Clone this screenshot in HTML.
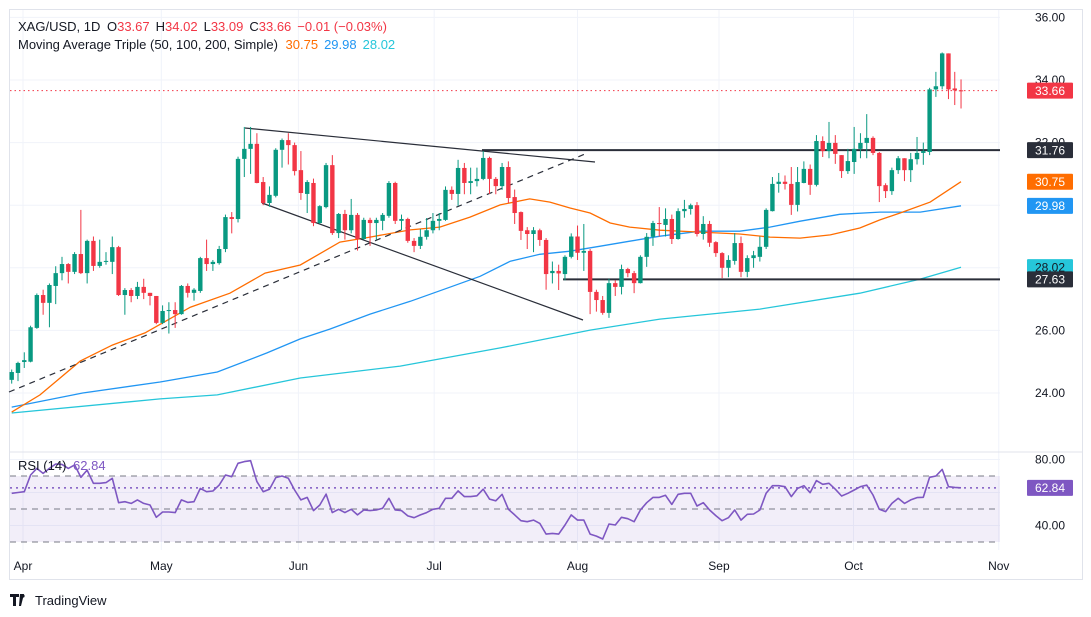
<!DOCTYPE html>
<html><head><meta charset="utf-8">
<style>
html,body{margin:0;padding:0;background:#fff;}
svg{display:block;font-family:"Liberation Sans","DejaVu Sans",sans-serif;}
</style></head>
<body>
<svg id="chart" width="1091" height="617" viewBox="0 0 1091 617" xmlns="http://www.w3.org/2000/svg">
<rect x="9.5" y="9.5" width="1073" height="570" fill="#fff" stroke="#e0e3eb"/>
<g id="grid"></g>
<rect x="10" y="476" width="990" height="66" fill="#7e57c2" fill-opacity="0.1"/>
<g id="rsiLevels"></g>
<g id="mas"></g>
<g id="drawings">
<line x1="245" y1="128" x2="595" y2="162" stroke="#2a2e39" stroke-width="1.2"/>
<line x1="262" y1="203" x2="583" y2="320" stroke="#2a2e39" stroke-width="1.2"/>
<line x1="9" y1="392" x2="585" y2="154" stroke="#2a2e39" stroke-width="1.2" stroke-dasharray="6,5"/>
</g>
<g id="hlines"></g>
<g id="candles"></g>
<g id="rsi"></g>
<line x1="10" y1="452" x2="1082" y2="452" stroke="#e0e3eb"/>
<g id="axes"></g>
<g id="labels"></g>
<text x="18" y="31" font-size="13" fill="#131722">XAG/USD, 1D <tspan dx="3">O</tspan><tspan fill="#f23645">33.67</tspan><tspan dx="6">H</tspan><tspan fill="#f23645">34.02</tspan><tspan dx="6">L</tspan><tspan fill="#f23645">33.09</tspan><tspan dx="6">C</tspan><tspan fill="#f23645">33.66</tspan><tspan dx="6" fill="#f23645">−0.01 (−0.03%)</tspan></text>
<text x="18" y="49" font-size="13" fill="#131722">Moving Average Triple (50, 100, 200, Simple) <tspan dx="4" fill="#ff6d00">30.75</tspan><tspan dx="6" fill="#2196f3">29.98</tspan><tspan dx="6" fill="#26c6da">28.02</tspan></text>
<text x="18" y="470" font-size="13" fill="#131722">RSI (14) <tspan dx="3" fill="#7e57c2">62.84</tspan></text>
<g>
<path d="M10 594h9v3h-3v9h-3v-9h-3z M20 594h4l-3 12h-2z" fill="#131722"/>
<circle cx="23" cy="596" r="1.6" fill="#131722"/>
<text x="35" y="605" font-size="13" fill="#131722">TradingView</text>
</g>
</svg>
<script>
const opens=[24.42,24.64,24.99,25.00,26.08,27.13,26.88,27.42,27.83,28.12,27.87,28.44,27.83,28.86,28.06,28.19,28.19,28.66,27.13,27.29,27.10,27.39,27.20,27.10,26.24,26.62,26.65,26.52,27.42,27.20,27.26,28.31,28.12,28.15,28.60,29.62,29.56,31.48,31.80,31.96,30.74,30.07,30.30,31.77,32.08,31.92,31.12,30.36,30.71,29.43,29.94,31.28,29.11,29.72,29.20,29.69,28.92,29.53,29.43,29.50,29.66,30.71,29.50,29.56,28.86,28.70,28.99,29.20,29.50,29.53,30.49,30.36,31.19,30.71,30.77,30.84,31.51,30.84,30.61,31.22,30.26,29.78,29.20,29.08,29.20,28.89,27.83,27.90,27.80,28.35,29.00,28.48,28.54,27.23,26.97,26.56,27.51,27.39,27.96,27.83,27.51,28.35,28.99,29.43,29.37,29.56,28.92,29.81,29.88,30.00,29.08,29.40,28.82,28.47,28.00,28.22,28.79,27.87,28.31,28.35,28.67,29.81,30.68,30.75,30.68,30.01,30.71,31.16,30.65,32.05,31.73,31.99,31.60,31.09,31.38,31.80,31.99,32.15,31.67,30.64,30.45,31.12,31.50,31.12,31.47,31.67,31.70,33.70,33.80,34.85,33.73,33.67];
const highs=[24.75,25.00,25.30,26.15,27.18,27.30,27.50,28.05,28.35,28.15,28.50,29.85,28.90,29.00,28.90,28.50,29.00,28.70,27.35,27.35,27.55,27.65,27.20,27.10,26.80,26.90,26.90,27.45,27.50,27.35,28.35,28.90,28.25,28.70,29.70,29.78,31.55,32.50,32.50,32.30,30.90,30.60,31.82,32.13,32.30,32.00,31.73,30.80,30.85,30.00,31.35,31.60,29.75,29.85,30.20,29.75,29.60,29.60,29.60,29.75,30.77,30.75,29.70,29.60,28.95,29.24,29.59,29.75,29.75,30.60,30.60,31.45,31.35,31.20,31.20,31.73,31.55,30.90,31.35,31.40,30.50,29.80,29.30,29.30,29.25,28.95,28.20,28.10,28.40,29.10,29.35,29.40,28.60,27.30,27.10,27.65,27.60,28.10,28.00,27.90,28.40,29.11,29.50,29.94,29.90,29.70,29.90,30.17,30.05,30.10,29.65,29.50,28.85,28.50,28.40,29.11,29.00,28.40,28.54,29.00,29.90,30.90,31.03,30.95,31.22,31.22,31.40,31.30,32.24,32.20,32.66,32.24,31.60,31.80,32.50,32.30,32.91,32.20,31.70,30.70,31.20,31.57,31.50,31.67,32.18,32.00,33.75,34.26,34.88,34.85,34.26,34.02];
const lows=[24.30,24.38,24.80,24.98,26.05,26.50,26.10,26.84,27.60,27.50,27.80,27.80,27.50,27.90,28.00,28.10,27.80,27.10,26.50,26.90,27.00,27.00,26.80,26.20,26.20,25.90,26.08,26.50,27.05,26.95,27.20,27.90,27.90,28.10,28.50,29.10,29.45,30.90,31.00,30.70,30.00,29.95,30.25,31.20,31.30,30.95,30.17,29.75,29.33,29.40,29.90,29.05,28.95,28.90,29.10,28.55,28.90,28.70,28.90,29.20,29.60,29.40,29.20,28.80,28.50,28.60,28.90,29.10,29.20,29.50,30.17,29.98,30.35,30.35,30.60,30.80,30.36,30.35,30.49,30.07,29.40,28.89,28.60,28.50,28.70,27.30,27.50,27.29,27.60,28.30,28.25,27.90,26.52,26.60,26.50,26.40,27.10,27.15,27.70,27.19,27.50,28.03,28.70,29.00,29.00,28.76,28.90,29.60,29.70,29.00,28.90,28.67,28.35,27.67,27.70,28.10,27.70,27.70,28.00,28.20,28.60,29.80,30.40,30.50,29.69,29.80,30.70,30.33,30.60,31.54,31.50,31.32,30.87,31.00,31.00,31.50,31.50,31.60,30.10,30.23,30.33,31.00,30.77,30.74,31.30,31.29,31.60,33.46,33.70,33.39,33.20,33.09];
const closes=[24.67,24.96,25.05,26.10,27.13,26.88,27.45,27.83,28.12,27.87,28.44,27.83,28.86,28.06,28.19,28.22,28.66,27.13,27.29,27.10,27.39,27.20,27.10,26.24,26.62,26.65,26.52,27.42,27.20,27.30,28.31,28.12,28.19,28.60,29.62,29.56,31.48,31.80,31.96,30.71,30.07,30.33,31.77,32.08,31.92,31.09,30.39,30.74,29.43,29.97,31.28,29.11,29.72,29.20,29.69,28.92,29.53,29.43,29.53,29.69,30.71,29.50,29.56,28.86,28.70,28.99,29.20,29.50,29.56,30.49,30.36,31.19,30.71,30.77,30.84,31.51,30.84,30.61,31.22,30.23,29.75,29.18,29.08,29.20,28.89,27.80,27.90,27.82,28.35,29.00,28.48,28.54,27.23,26.97,26.56,27.51,27.39,27.96,27.83,27.51,28.35,28.99,29.43,29.40,29.56,28.92,29.81,29.88,30.00,29.08,29.40,28.80,28.47,28.00,28.25,28.79,27.87,28.31,28.40,28.67,29.85,30.68,30.75,30.68,30.01,30.74,31.16,30.65,32.05,31.73,31.99,31.64,31.09,31.41,31.80,31.99,32.15,31.67,30.61,30.45,31.12,31.50,31.12,31.47,31.67,31.73,33.70,33.80,34.85,33.70,33.67,33.66];
const rsiValues=[59.5,60,60.5,70.6,74.6,71.6,74.6,77.3,77,74.6,76.7,69.2,73.6,65.6,65.6,66,68.6,53.8,54.4,53.4,55.5,53.4,52.4,45,48.2,48.2,47.8,55.5,54,54.4,62.5,60.5,60.9,64.5,70.6,69.6,77.7,78.7,79.3,66.6,60.5,62,69,70,68.6,61.5,55.5,57,49,52.4,59,47.8,49.8,47.8,49.8,46.4,49.4,49,49.4,50.4,56.5,49.4,49,45.8,44.7,46.4,47.8,49.8,50.4,56.5,56.5,61,57.5,57.5,58,62,56,55,58.9,49.8,46.4,42.9,42.3,43.3,41.3,34.8,35.2,34.8,40.3,46.4,43.3,43.3,34.8,33.6,31.8,40.9,40.3,45,44.1,42.3,49.4,53.8,57,57,58.3,52.8,58.9,59.5,59.5,51.8,53.8,49.4,46,42.9,44.7,49.4,43.3,46.8,47,49.4,59.5,64.1,64.1,63.5,57.5,62.5,64.1,59.9,67.2,65,65.6,62,57.9,59.5,61.5,63.5,64.5,58.5,49.8,48.4,53.4,56.5,53.4,55.5,56.9,57.1,69.2,70,74,63.5,63.1,62.84];
const sma50Idx=[0,4.5,10.9,16,21.2,28.4,34.7,40.3,45.9,52.2,57,63.4,68.1,72.9,77.7,82.4,85.6,88.8,92,95.2,98.3,103.1,109.5,115.8,120.6,125.4,130.2,134.9,138.1,141.3,146.1,151];
const sma50Val=[23.39,23.94,25.02,25.53,25.92,26.74,27.19,27.83,28.09,28.82,28.98,29.21,29.3,29.62,30.01,30.2,30.1,29.91,29.75,29.43,29.3,29.2,29.14,29.08,28.98,28.95,29.05,29.27,29.53,29.75,30.1,30.75];
const sma100Idx=[0,11.3,23.6,32.7,40.6,45.9,50.6,57,63.4,69.7,74.5,79.3,84,88.8,93.6,98.3,103.1,109.5,115.8,120.6,125.4,131.7,138.1,144.5,151];
const sma100Val=[23.55,24.0,24.35,24.67,25.28,25.73,26.04,26.52,26.93,27.38,27.73,28.21,28.43,28.53,28.69,28.85,29.01,29.17,29.17,29.3,29.49,29.71,29.78,29.78,29.98];
const sma200Idx=[0,23.6,32.7,45.9,61.8,77.7,92,103.1,119,134.9,144.5,151];
const sma200Val=[23.36,23.81,23.94,24.48,24.86,25.44,26.01,26.36,26.68,27.19,27.64,28.02];
const priceTicks=[24,26,28,30,32,34,36];
const rsiTicks=[40,80];
const monthLabels=["Apr","May","Jun","Jul","Aug","Sep","Oct","Nov"];
const monthIdx=[1.8,23.8,45.6,67.2,90,112.5,133.9,157];
const levelValues=[31.76,27.63];
const levelStartIdx=[74.8,87.7];
const lastPrice=33.66, lastRsi=62.84;

const NS="http://www.w3.org/2000/svg";
const X0=11.7, STEP=6.287;
function xOf(i){return X0+i*STEP;}
function yP(p){return 393-(p-24)*31.3;}
function yR(r){return 476+(70-r)*1.65;}
function mk(tag,attrs,parent){const e=document.createElementNS(NS,tag);for(const k in attrs)e.setAttribute(k,attrs[k]);parent.appendChild(e);return e;}
const $=id=>document.getElementById(id);

// grid
const grid=$("grid");
priceTicks.forEach(p=>{const l=mk("line",{x1:10,x2:1000,y1:yP(p),y2:yP(p),stroke:"#f0f3fa"},grid);

});
[60,40,80].forEach(r=>{const l=mk("line",{x1:10,x2:1000,y1:yR(r),y2:yR(r),stroke:"#f0f3fa"},grid);

});
monthIdx.forEach(i=>{const l=mk("line",{x1:xOf(i),x2:xOf(i),y1:10,y2:550,stroke:"#f0f3fa"},grid);

});

// rsi levels
const rl=$("rsiLevels");
[70,50,30].forEach(r=>{const l=mk("line",{x1:10,x2:1000,y1:yR(r),y2:yR(r),stroke:"#787b86","stroke-dasharray":"6,5"},rl);

});

// MAs
function maPath(idx,val,color,name){
  const d=idx.map((i,k)=>(k?"L":"M")+xOf(i).toFixed(1)+" "+yP(val[k]).toFixed(1)).join(" ");
  const p=mk("path",{d:d,fill:"none",stroke:color,"stroke-width":1.3},$("mas"));
  
  
}
maPath(sma200Idx,sma200Val,"#26c6da","sma-200-line");
maPath(sma100Idx,sma100Val,"#2196f3","sma-100-line");
maPath(sma50Idx,sma50Val,"#ff6d00","sma-50-line");

// horizontal levels
const hl=$("hlines");
levelValues.forEach((v,k)=>{const l=mk("line",{x1:xOf(levelStartIdx[k]),x2:1000,y1:yP(v),y2:yP(v),stroke:"#2a2e39","stroke-width":2},hl);

});
const lp=mk("line",{x1:10,x2:1000,y1:yP(lastPrice),y2:yP(lastPrice),stroke:"#f23645","stroke-dasharray":"1.5,3"},hl);



// candles
const cg=$("candles");
closes.forEach((c,i)=>{
  const o=opens[i],h=highs[i],l=lows[i];
  const col=c>=o?"#089981":"#f23645";
  const x=xOf(i);
  const g=mk("g",{},cg);
  
  
  mk("line",{x1:x,x2:x,y1:yP(h),y2:yP(l),stroke:col,"stroke-width":1},g);
  const top=yP(Math.max(o,c)),bot=yP(Math.min(o,c));
  mk("rect",{x:x-2.2,y:top,width:4.4,height:Math.max(1,bot-top),fill:col},g);
});

// RSI
const rg=$("rsi");
const rd=rsiValues.map((r,i)=>(i?"L":"M")+xOf(i).toFixed(1)+" "+yR(r).toFixed(1)).join(" ");
const rp=mk("path",{d:rd,fill:"none",stroke:"#7e57c2","stroke-width":1.6,"stroke-linejoin":"round"},rg);


const rdl=mk("line",{x1:10,x2:1000,y1:yR(lastRsi),y2:yR(lastRsi),stroke:"#7e57c2","stroke-width":1.5,"stroke-dasharray":"2,4"},rg);



// axes labels
const ax=$("axes");
priceTicks.forEach(p=>{const t=mk("text",{x:1035,y:yP(p)+4,"font-size":12,fill:"#131722"},ax);t.textContent=p.toFixed(2);

});
rsiTicks.forEach(r=>{const t=mk("text",{x:1035,y:yR(r)+4,"font-size":12,fill:"#131722"},ax);t.textContent=r.toFixed(2);

});
monthLabels.forEach((m,k)=>{const t=mk("text",{x:xOf(monthIdx[k]),y:570,"font-size":12,fill:"#131722","text-anchor":"middle"},ax);t.textContent=m;

});

// price label boxes
const lb=$("labels");
const boxVals=[28.02,27.63,31.76,30.75,29.98,33.66];
const boxFill=["#26c6da","#2a2e39","#2a2e39","#ff6d00","#2196f3","#f23645"];
const boxText=["#131722","#fff","#fff","#fff","#fff","#fff"];
boxVals.forEach((v,k)=>{
  const y=yP(v);
  const g=mk("g",{},lb);
  
  
  mk("rect",{x:1027,y:y-8,width:46,height:16,fill:boxFill[k],rx:1},g);
  const t=mk("text",{x:1050,y:y+4.3,"font-size":12,fill:boxText[k],"text-anchor":"middle"},g);t.textContent=v.toFixed(2);
});
{const y=yR(lastRsi);const g=mk("g",{},lb);


mk("rect",{x:1027,y:y-8,width:46,height:16,fill:"#7e57c2",rx:1},g);
const t=mk("text",{x:1050,y:y+4.3,"font-size":12,fill:"#fff","text-anchor":"middle"},g);t.textContent=lastRsi.toFixed(2);}
</script>
</body></html>
